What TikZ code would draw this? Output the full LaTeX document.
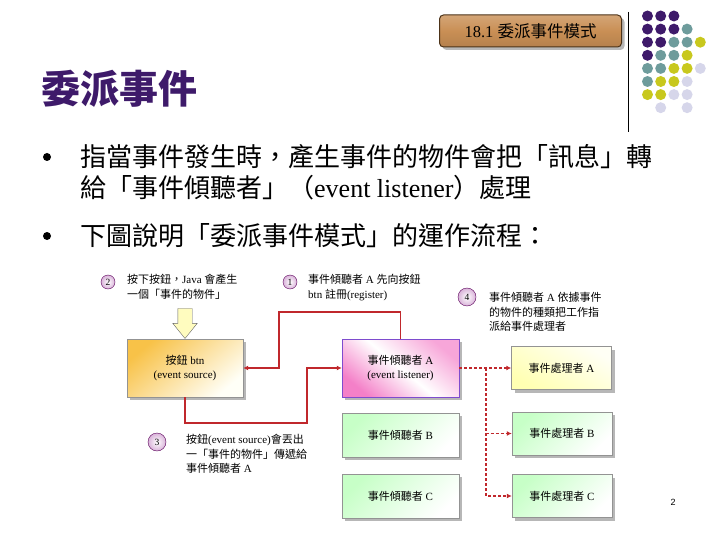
\documentclass[tikz,border=0pt]{standalone}
\usepackage{fontspec}
\setmainfont{Liberation Serif}
\newfontfamily\cjk{Noto Sans CJK TC}
\newfontfamily\pgsans{Liberation Sans}
\usepackage{tikz}
\usetikzlibrary{arrows.meta,positioning,calc,shapes.arrows,shadows}
\definecolor{dkpurple}{HTML}{3E1A6A}
\definecolor{dotteal}{HTML}{6E9C9C}
\definecolor{dotyel}{HTML}{C8C81E}
\definecolor{dotlav}{HTML}{D6D6EA}
\definecolor{redln}{HTML}{C0282C}
\definecolor{wood}{HTML}{C98F55}
\definecolor{srcor}{HTML}{F8C248}
\definecolor{lspink}{HTML}{F480C8}
\newcommand{\zh}[1]{{\cjk #1}}

\begin{document}
\begin{tikzpicture}[x=1pt,y=-1pt,
  dot/.style={circle,inner sep=0pt,minimum size=11pt},
  bul/.style={circle,fill=black,inner sep=0pt,minimum size=8pt},
  txt/.style={anchor=west,inner sep=0pt,font=\fontsize{26}{30}\selectfont},
  box/.style={draw=gray!85,align=center,inner sep=2pt,
    font=\fontsize{11}{13.5}\selectfont,
    drop shadow={shadow xshift=3pt,shadow yshift=-3pt,fill=gray!80,opacity=.7}},
  srcbox/.style={box,minimum width=116pt,minimum height=58pt,
    top color=srcor,bottom color=yellow!3,shading angle=40},
  lsbox/.style={box,draw=blue!45!violet!70,minimum width=117pt,minimum height=58pt,
    top color=lspink!70,bottom color=lspink,middle color=white,shading angle=-40},
  gnbox/.style={box,minimum width=117pt,minimum height=44pt,
    top color=green!22,bottom color=white,shading angle=45},
  hdbox/.style={box,minimum width=100pt,minimum height=43pt},
  num/.style={circle,draw=violet!70!black,inner sep=0pt,minimum size=#1,
    inner color=white,outer color=violet!30,font=\fontsize{9.5}{9.5}\selectfont},
  note/.style={anchor=west,align=left,inner sep=0pt,font=\fontsize{11}{14.5}\selectfont},
  reg/.style={redln,line width=1.1pt,-{Latex[length=5pt,width=5pt]}},
  dsp/.style={redln,line width=1.5pt,dash pattern=on 3pt off 2pt,-{Latex[length=5pt,width=5pt]}}
]
\useasboundingbox (0,0) rectangle (720,540);
%--- heading ---
\node[draw=brown!40!black,line width=1pt,rounded corners=4pt,
  top color=wood!80!white,bottom color=wood!90!black,middle color=wood,
  minimum width=182pt,minimum height=32pt,inner sep=0pt,
  font=\fontsize{16.5}{16.5}\selectfont,
  drop shadow={shadow xshift=3pt,shadow yshift=-3pt,fill=gray!70,opacity=.8}]
  (hd) at (530.5,31) {18.1 \zh{委派事件模式}};
\draw[line width=1pt] (628,12) -- (628,132);
%--- dots ---
\foreach \r/\row in {0/{P,P,P,N,N},1/{P,P,P,T,N},2/{P,P,T,T,Y},3/{P,T,T,Y,N},
                     4/{T,T,Y,Y,L},5/{T,Y,Y,L,N},6/{Y,Y,L,L,N},7/{N,L,N,L,N}}{
  \foreach \c [count=\i from 0] in \row {
    \def\dc{none}
    \if\c P\def\dc{dkpurple}\fi
    \if\c T\def\dc{dotteal}\fi
    \if\c Y\def\dc{dotyel}\fi
    \if\c L\def\dc{dotlav}\fi
    \if\c N\else
      \node[dot,fill=\dc] (d\r\i) at ({647.5+13.2*\i},{16+13.1*\r}) {};
    \fi
  }
}
%--- title and bullets ---
\node[anchor=west,inner sep=0pt,text=dkpurple,font=\fontsize{39}{40}\selectfont\bfseries]
  (ttl) at (41,89) {\zh{委派事件}};
\node[bul] (b1) at (47,157) {};
\node[txt] (l1) at (80,157) {\zh{指當事件發生時，產生事件的物件會把「訊息」轉}};
\node[txt] (l2) at (80,188) {\zh{給「事件傾聽者」（}event listener\zh{）處理}};
\node[bul] (b2) at (47,236) {};
\node[txt] (l3) at (80,236) {\zh{下圖說明「委派事件模式」的運作流程：}};
%--- boxes ---
\node[srcbox] (src) at (185,368) {\zh{按鈕} btn\\(event source)};
\node[lsbox] (lsA) at (400.5,368) {\zh{事件傾聽者} A\\(event listener)};
\node[gnbox] (lsB) at (400.5,435) {\zh{事件傾聽者} B};
\node[gnbox] (lsC) at (400.5,496) {\zh{事件傾聽者} C};
\node[hdbox,top color=yellow!4,bottom color=yellow!30,shading angle=-30] (hdA) at (561.5,368) {\zh{事件處理者} A};
\node[hdbox,top color=green!22,bottom color=white,shading angle=45] (hdB) at (562,433.5) {\zh{事件處理者} B};
\node[hdbox,top color=green!22,bottom color=white,shading angle=45] (hdC) at (562,496) {\zh{事件處理者} C};
%--- yellow arrow into the button ---
\node[single arrow,draw=gray!80!black,fill=yellow!25,rotate=-90,inner sep=7pt,
  minimum width=24pt,minimum height=30pt,single arrow head extend=5pt,
  single arrow tip angle=78,anchor=tip] (evt) at (src.north) {};
%--- numbered notes ---
\node[num=14pt] (n2) at (108,282) {2};
\node[note] (t2) at (127,287) {\zh{按下按鈕，}Java \zh{會產生}\\\zh{一個「事件的物件」}};
\node[num=14pt] (n1) at (290,282) {1};
\node[note] (t1) at (308,287.5) {\zh{事件傾聽者} A \zh{先向按鈕}\\btn \zh{註冊}(register)};
\node[num=18pt] (n4) at (467,297) {4};
\node[note] (t4) at (489,312) {\zh{事件傾聽者} A \zh{依據事件}\\\zh{的物件的種類把工作指}\\\zh{派給事件處理者}};
\node[num=18pt] (n3) at (157,442) {3};
\node[note] (t3) at (186,454) {\zh{按鈕}(event source)\zh{會丟出}\\\zh{一「事件的物件」傳遞給}\\\zh{事件傾聽者} A};
%--- connectors ---
\coordinate (up) at (279,312);
\coordinate (lo) at (307,423);
\coordinate (br) at (486,368);
\draw[reg] (lsA.north) |- (up) |- (src.east);
\draw[reg] (src.south) |- (lo) |- (lsA.west);
\draw[dsp] (lsA.east) -- (hdA.west);
\draw[dsp] (br) |- (hdB.west);
\draw[dsp] (br) |- (hdC.west);
%--- page number ---
\node[font=\pgsans\fontsize{9}{9}\selectfont] (pg) at (673,502) {2};
\end{tikzpicture}
\end{document}
